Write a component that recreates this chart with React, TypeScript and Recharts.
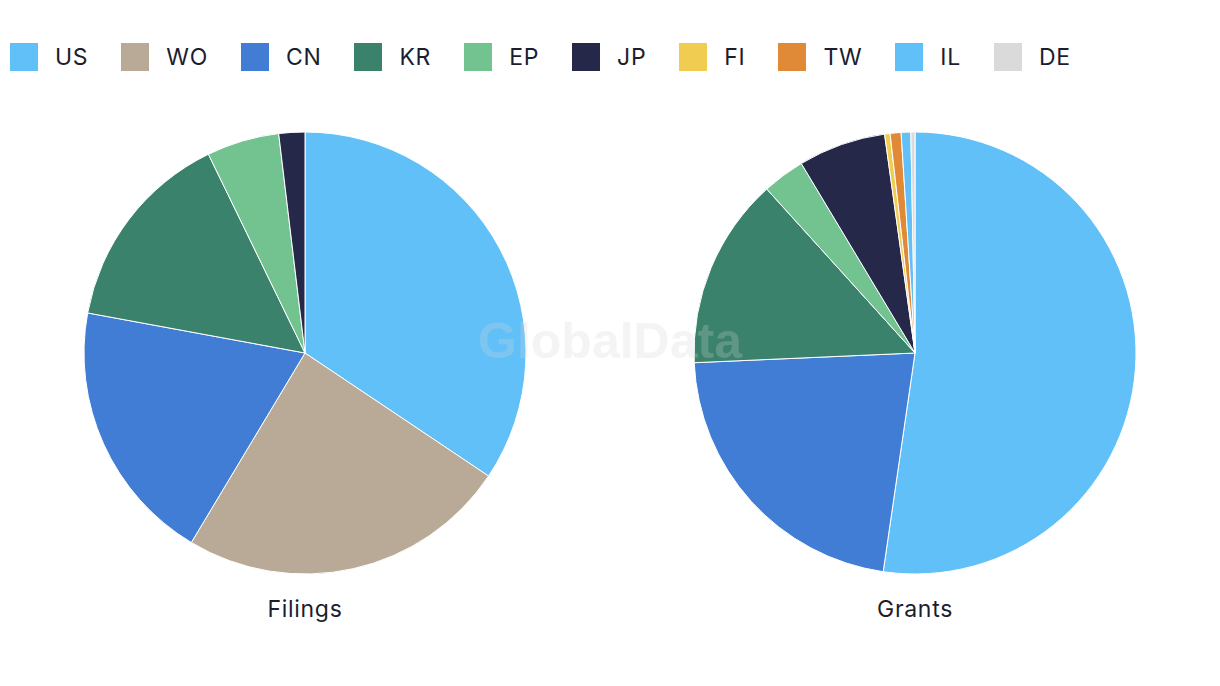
import { PieChart, Pie, Cell } from "recharts";

// Patent office breakdown (share of total, %)
const offices = ["US", "WO", "CN", "KR", "EP", "JP", "FI", "TW", "IL", "DE"];
const colors = ["#62c0f9", "#b8aa96", "#417dd4", "#3a826b", "#72c390", "#262849", "#f0cd50", "#e08a38", "#62c0f9", "#dadada"];
const filings = [34.4, 24.2, 19.3, 14.9, 5.3, 1.9, 0, 0, 0, 0];
const grants = [52.3, 0, 22.0, 14.0, 3.1, 6.4, 0.4, 0.8, 0.7, 0.3];

const toSlices = (vals: number[]) =>
  offices
    .map((name, i) => ({ name, value: vals[i], color: colors[i] }))
    .filter((d) => d.value > 0);

const FONT = "Inter, 'Noto Sans', sans-serif";
const INK = "#1c1d2e";
const textStyle = { fontSize: 23, letterSpacing: 0.7, color: INK };

export default function App() {
  const filingData = toSlices(filings);
  const grantData = toSlices(grants);

  return (
    <div style={{ position: "absolute", left: 0, top: 0, width: 1220, height: 686, background: "#fff", fontFamily: FONT }}>
      {/* legend */}
      <div style={{ position: "absolute", left: 10, top: 43, display: "flex", alignItems: "center" }}>
        {offices.map((o, i) => (
          <div key={o} style={{ display: "flex", alignItems: "center", marginRight: 33 }}>
            <span style={{ width: 28, height: 28, background: colors[i], display: "inline-block" }} />
            <span style={{ marginLeft: 17, ...textStyle }}>{o}</span>
          </div>
        ))}
      </div>

      <PieChart
        width={1220}
        height={686}
        margin={{ top: 0, right: 0, bottom: 0, left: 0 }}
        style={{ position: "absolute", left: 0, top: 0 }}
      >
        <Pie
          data={filingData}
          dataKey="value"
          nameKey="name"
          cx={305}
          cy={353}
          outerRadius={221}
          startAngle={90}
          endAngle={-270}
          stroke="#fff"
          strokeWidth={1}
          isAnimationActive={false}
        >
          {filingData.map((d) => (
            <Cell key={d.name} fill={d.color} />
          ))}
        </Pie>
        <Pie
          data={grantData}
          dataKey="value"
          nameKey="name"
          cx={915}
          cy={353}
          outerRadius={221}
          startAngle={90}
          endAngle={-270}
          stroke="#fff"
          strokeWidth={1}
          isAnimationActive={false}
        >
          {grantData.map((d) => (
            <Cell key={d.name} fill={d.color} />
          ))}
        </Pie>
      </PieChart>

      <div style={{ position: "absolute", left: 205, width: 200, top: 595, textAlign: "center", ...textStyle }}>Filings</div>
      <div style={{ position: "absolute", left: 815, width: 200, top: 595, textAlign: "center", ...textStyle }}>Grants</div>

      {/* watermark */}
      <div
        style={{
          position: "absolute",
          left: 410,
          width: 400,
          top: 312,
          textAlign: "center",
          fontSize: 50,
          fontWeight: 700,
          fontFamily: "'Liberation Sans', Arial, sans-serif",
          color: "rgba(210,210,210,0.25)",
          pointerEvents: "none",
        }}
      >
        GlobalData
      </div>
    </div>
  );
}
